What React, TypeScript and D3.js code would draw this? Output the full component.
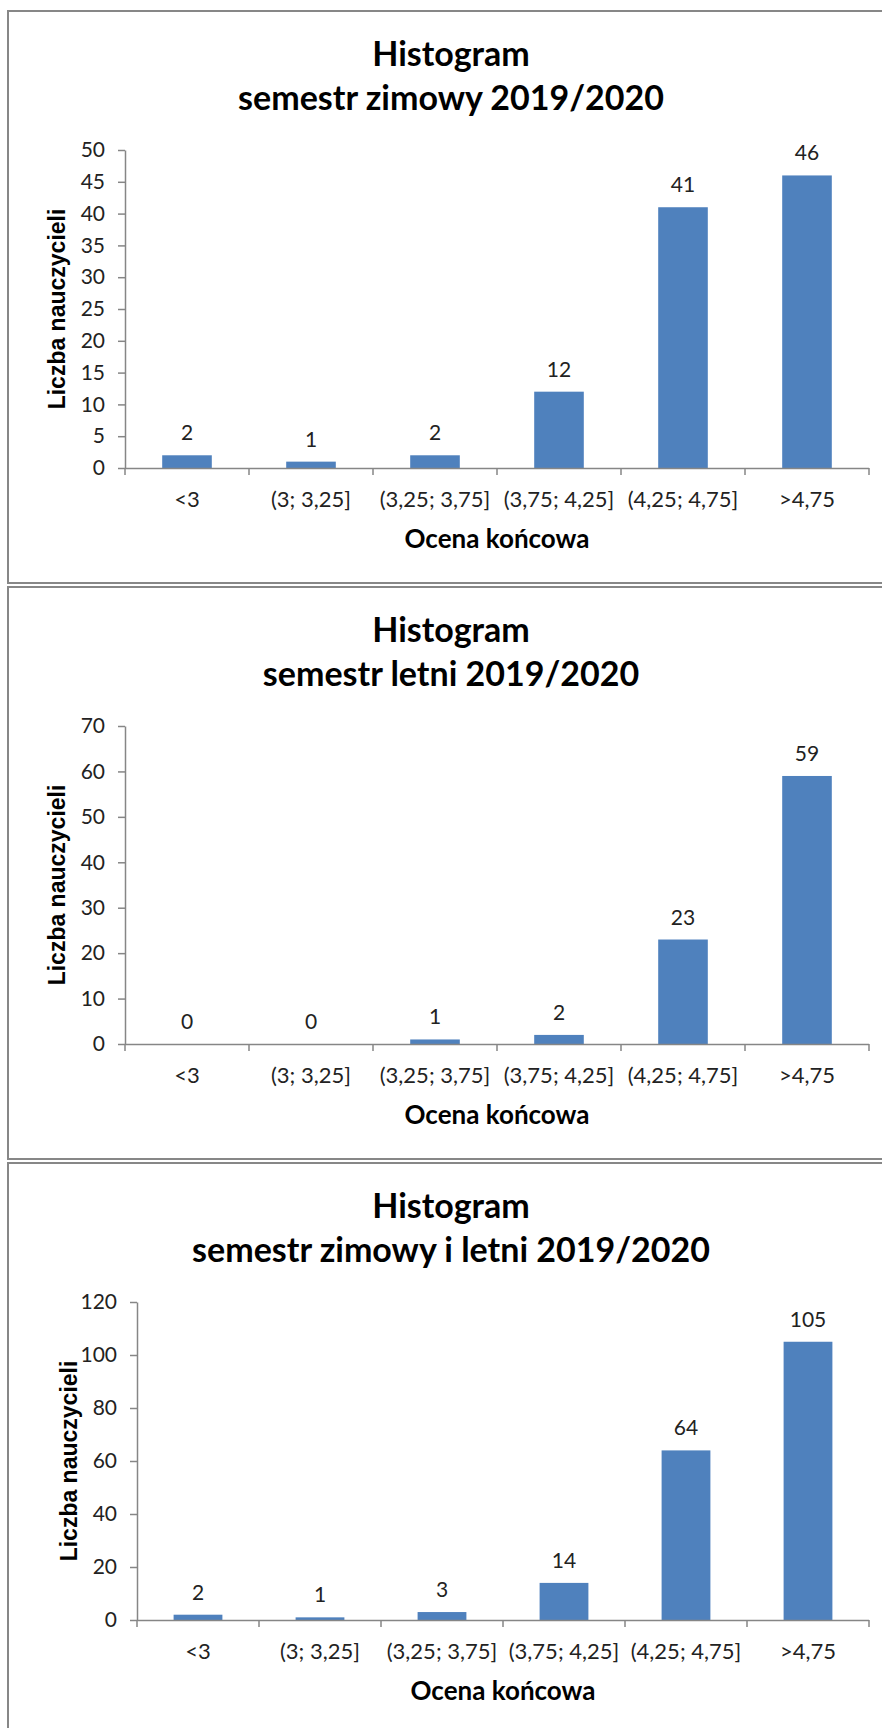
import React, { useEffect, useRef } from 'react';
import * as d3 from 'd3';

const categories = ['<3', '(3; 3,25]', '(3,25; 3,75]', '(3,75; 4,25]', '(4,25; 4,75]', '>4,75'];
const winterValues = [2, 1, 2, 12, 41, 46];
const summerValues = [0, 0, 1, 2, 23, 59];
const totalValues = [2, 1, 3, 14, 64, 105];

const winterTicks = [0, 5, 10, 15, 20, 25, 30, 35, 40, 45, 50];
const summerTicks = [0, 10, 20, 30, 40, 50, 60, 70];
const totalTicks = [0, 20, 40, 60, 80, 100, 120];

const titles = [
    ['Histogram', 'semestr zimowy 2019/2020'],
    ['Histogram', 'semestr letni 2019/2020'],
    ['Histogram', 'semestr zimowy i letni 2019/2020'],
];

const xTitle = 'Ocena końcowa';
const yTitle = 'Liczba nauczycieli';

const BAR = '#4F81BD';
const AXIS = '#868686';
const BORDER = '#878787';
const LABEL_FONT = 'Lato, "Open Sans", sans-serif';

interface HistogramProps {
    offsetY: number;
    values: number[];
    ticks: number[];
    title: string[];
    plotLeft: number;
}

const Histogram: React.FC<HistogramProps> = ({ offsetY, values, ticks, title, plotLeft }) => {
    const gRef = useRef<SVGGElement>(null);

    useEffect(() => {
        if (!gRef.current) return;

        const plotTop = 150;
        const plotBottom = 468;
        const plotRight = 869;

        const g = d3.select(gRef.current);
        g.selectAll('*').remove();
        g.attr('transform', `translate(0,${offsetY})`);

        // panel frame (runs off the right edge, like the original)
        g.append('rect')
            .attr('x', 8)
            .attr('y', 11)
            .attr('width', 886)
            .attr('height', 572)
            .attr('fill', '#fff')
            .attr('stroke', BORDER)
            .attr('stroke-width', 2);

        const x = d3.scaleBand<string>().domain(categories).range([plotLeft, plotRight]).padding(0);
        const y = d3.scaleLinear().domain([0, ticks[ticks.length - 1]]).range([plotBottom, plotTop]);

        // title
        const cx = 451;
        g.append('text')
            .attr('x', cx)
            .attr('y', 66)
            .attr('text-anchor', 'middle')
            .style('font-family', LABEL_FONT)
            .style('font-weight', 'bold')
            .style('font-size', '34px')
            .attr('fill', '#000')
            .text(title[0]);
        g.append('text')
            .attr('x', cx)
            .attr('y', 110)
            .attr('text-anchor', 'middle')
            .style('font-family', LABEL_FONT)
            .style('font-weight', 'bold')
            .style('font-size', '34px')
            .attr('fill', '#000')
            .text(title[1]);

        // bars
        const bw = x.bandwidth();
        g.selectAll('rect.bar')
            .data(values)
            .enter()
            .append('rect')
            .attr('class', 'bar')
            .attr('x', (_, i) => (x(categories[i]) as number) + bw * 0.3)
            .attr('y', d => y(d))
            .attr('width', bw * 0.4)
            .attr('height', d => plotBottom - y(d))
            .attr('fill', BAR);

        // data labels
        g.selectAll('text.val')
            .data(values)
            .enter()
            .append('text')
            .attr('class', 'val')
            .attr('x', (_, i) => (x(categories[i]) as number) + bw / 2)
            .attr('y', d => y(d) - 15)
            .attr('text-anchor', 'middle')
            .style('font-family', LABEL_FONT)
            .style('font-size', '21px')
            .attr('fill', '#222')
            .text(d => d);

        // y axis
        const yAxis = d3.axisLeft(y).tickValues(ticks).tickSize(7).tickPadding(13).tickSizeOuter(0);
        const ya = g.append('g').attr('transform', `translate(${plotLeft},0)`).call(yAxis);
        ya.selectAll('line').attr('stroke', AXIS).attr('stroke-width', 1.5);
        ya.select('.domain').attr('stroke', AXIS).attr('stroke-width', 1.5);
        ya.selectAll('text')
            .style('font-family', LABEL_FONT)
            .style('font-size', '21px')
            .attr('fill', '#222');

        // x axis: labels centred in bands, ticks on band edges
        const xAxis = d3.axisBottom(x).tickSize(0).tickPadding(23).tickSizeOuter(0);
        const xa = g.append('g').attr('transform', `translate(0,${plotBottom})`).call(xAxis);
        xa.select('.domain').attr('stroke', AXIS).attr('stroke-width', 1.5).attr('d', `M${plotLeft},0.5H${plotRight}`);
        xa.selectAll('text')
            .style('font-family', LABEL_FONT)
            .style('font-size', '22px')
            .attr('fill', '#222');

        const edges = categories.map(c => x(c) as number).concat([plotRight]);
        g.selectAll('line.edge')
            .data(edges)
            .enter()
            .append('line')
            .attr('class', 'edge')
            .attr('x1', d => d)
            .attr('x2', d => d)
            .attr('y1', plotBottom)
            .attr('y2', plotBottom + 7)
            .attr('stroke', AXIS)
            .attr('stroke-width', 1.5);

        // axis titles
        g.append('text')
            .attr('x', (plotLeft + plotRight) / 2)
            .attr('y', 548)
            .attr('text-anchor', 'middle')
            .style('font-family', LABEL_FONT)
            .style('font-weight', 'bold')
            .style('font-size', '26px')
            .attr('fill', '#000')
            .text(xTitle);

        g.append('text')
            .attr('transform', 'rotate(-90)')
            .attr('x', -(plotTop + plotBottom) / 2)
            .attr('y', plotLeft - 60)
            .attr('text-anchor', 'middle')
            .style('font-family', '"Liberation Sans", Arial, sans-serif')
            .style('font-weight', 'bold')
            .style('font-size', '23px')
            .attr('fill', '#000')
            .text(yTitle);
    }, [offsetY, values, ticks, title, plotLeft]);

    return <g ref={gRef} />;
};

export default function App() {
    return (
        <div style={{ position: 'absolute', left: 0, top: 0, width: 882, height: 1728, background: '#fff' }}>
            <svg width={882} height={1728} style={{ display: 'block' }}>
                <rect x={0} y={0} width={882} height={1728} fill="#fff" />
                <Histogram offsetY={0} values={winterValues} ticks={winterTicks} title={titles[0]} plotLeft={125} />
                <Histogram offsetY={576} values={summerValues} ticks={summerTicks} title={titles[1]} plotLeft={125} />
                <Histogram offsetY={1152} values={totalValues} ticks={totalTicks} title={titles[2]} plotLeft={137} />
            </svg>
        </div>
    );
}
